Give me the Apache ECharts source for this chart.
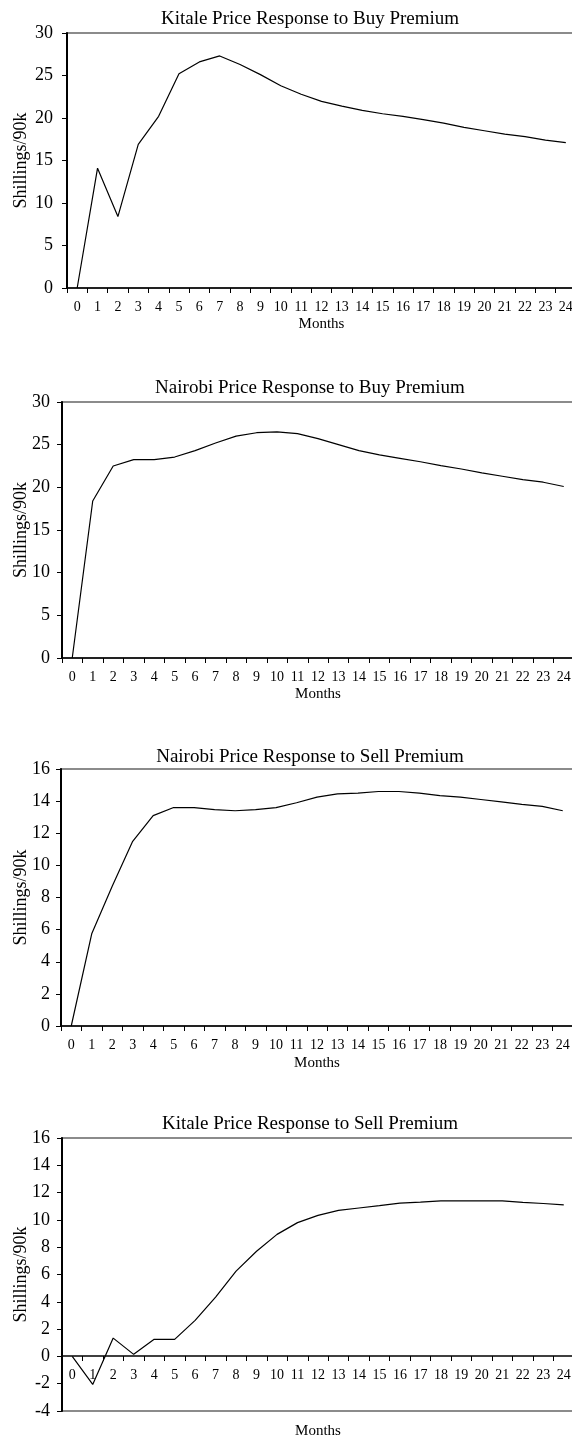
<!DOCTYPE html>
<html><head><meta charset="utf-8">
<script src="https://cdn.jsdelivr.net/npm/echarts@6/dist/echarts.min.js"></script>
<style>html,body{margin:0;padding:0;background:#fff}#c{width:572px;height:1439px}</style>
</head><body><div id="c"></div><script>
const months = ["0","1","2","3","4","5","6","7","8","9","10","11","12","13","14","15","16","17","18","19","20","21","22","23","24"];
const titles = ["Kitale Price Response to Buy Premium","Nairobi Price Response to Buy Premium","Nairobi Price Response to Sell Premium","Kitale Price Response to Sell Premium"];
const kitaleBuy = [0,14.1,8.4,16.9,20.2,25.2,26.6,27.3,26.3,25.1,23.8,22.8,21.95,21.4,20.9,20.5,20.2,19.8,19.4,18.9,18.5,18.1,17.8,17.4,17.1];
const nairobiBuy = [0,18.4,22.5,23.25,23.25,23.55,24.3,25.2,26.0,26.4,26.5,26.3,25.7,25.0,24.3,23.8,23.4,23.0,22.55,22.15,21.7,21.3,20.9,20.6,20.1];
const nairobiSell = [0,5.74,8.7,11.5,13.1,13.6,13.6,13.47,13.4,13.47,13.6,13.9,14.25,14.45,14.5,14.6,14.6,14.5,14.34,14.25,14.1,13.95,13.8,13.67,13.4];
const kitaleSell = [0,-2.05,1.34,0.15,1.25,1.25,2.64,4.35,6.25,7.7,8.94,9.8,10.33,10.7,10.87,11.04,11.23,11.3,11.4,11.4,11.4,11.4,11.28,11.2,11.1];
const yMin = [0,0,0,-4];
const yMax = [30,30,16,16];
const yStep = [5,5,2,2];
const yName = "Shillings/90k";
const xName = "Months";

const seriesData = [kitaleBuy, nairobiBuy, nairobiSell, kitaleSell];
const grids = [
  {left:67, top:33, width:509, height:255},
  {left:62, top:402, width:512, height:256},
  {left:61, top:769, width:512, height:257},
  {left:62, top:1138, width:512, height:273}
];
// x axis of the last panel sits on the zero line: shift it up by (0 - min) share of height
const xOffset = grids.map((g,i)=> -Math.round((0 - yMin[i]) / (yMax[i] - yMin[i]) * g.height));
const titleTop = [5, 374, 743, 1110];
const labelMargin = [14, 12, 11, 12];
const nameGapY = [37, 32, 31, 32];
const nameGapX = [29, 29, 30, 68];
const FONT = "Liberation Serif, Times New Roman, serif";

const option = {
  animation:false,
  backgroundColor:'#fff',
  textStyle:{fontFamily:FONT, color:'#000'},
  title: titles.map((t,i)=>({text:t, left:305, top:titleTop[i], textAlign:'center',
    textStyle:{fontFamily:FONT, fontSize:19, fontWeight:'normal', color:'#000'}})),
  grid: grids.map(g=>Object.assign({show:true, borderColor:'#666', borderWidth:1.5, backgroundColor:'transparent', containLabel:false, outerBoundsMode:'none'}, g)),
  xAxis: grids.map((g,i)=>({
    type:'category', gridIndex:i, data:months, boundaryGap:true, position:'bottom', offset:xOffset[i],
    name:xName, nameLocation:'middle', nameGap:nameGapX[i], nameMoveOverlap:false,
    nameTextStyle:{fontFamily:FONT, fontSize:15, color:'#000'},
    axisLine:{onZero:false, lineStyle:{color:'#000', width:1.5}},
    axisTick:{show:true, length:5, inside:false, lineStyle:{color:'#000', width:1}},
    axisLabel:{fontFamily:FONT, fontSize:14, color:'#000', margin:12, interval:0},
    splitLine:{show:false}
  })),
  yAxis: grids.map((g,i)=>({
    type:'value', gridIndex:i, min:yMin[i], max:yMax[i], interval:yStep[i],
    name:yName, nameLocation:'middle', nameGap:nameGapY[i], nameMoveOverlap:false,
    nameTextStyle:{fontFamily:FONT, fontSize:18, color:'#000'},
    axisLine:{show:true, onZero:false, lineStyle:{color:'#000', width:2}},
    axisTick:{show:true, length:5, inside:false, lineStyle:{color:'#000', width:1}},
    axisLabel:{fontFamily:FONT, fontSize:18, color:'#000', margin:labelMargin[i]},
    splitLine:{show:false}
  })),
  series: seriesData.map((d,i)=>({
    type:'line', xAxisIndex:i, yAxisIndex:i, data:d, symbol:'none', smooth:false,
    lineStyle:{color:'#000', width:1.2}
  }))
};
const chart = echarts.init(document.getElementById('c'), null, {renderer:'canvas'});
chart.setOption(option);
</script></body></html>
